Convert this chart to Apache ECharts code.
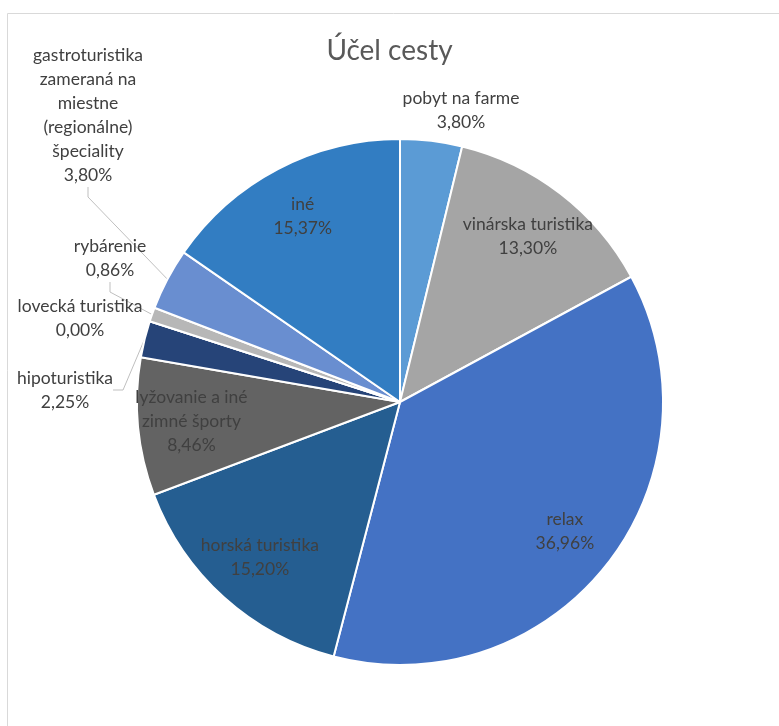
<!DOCTYPE html>
<html>
<head>
<meta charset="utf-8">
<script src="https://cdn.jsdelivr.net/npm/echarts@6/dist/echarts.min.js"></script>
<style>
  html, body { margin: 0; padding: 0; background: #fff; }
  #chart { width: 779px; height: 726px; }
</style>
</head>
<body>
<div id="chart"></div>
<script>
// data (percent)
const categories = [
  'pobyt na farme',
  'vinárska turistika',
  'relax',
  'horská turistika',
  'lyžovanie a iné\nzimné športy',
  'hipoturistika',
  'lovecká turistika',
  'rybárenie',
  'gastroturistika\nzameraná na\nmiestne\n(regionálne)\nšpeciality',
  'iné'
];
const values = [3.80, 13.30, 36.96, 15.20, 8.46, 2.25, 0.00, 0.86, 3.80, 15.37];
const colors = ['#5B9BD5', '#A5A5A5', '#4472C4', '#255E91', '#636363',
                '#264478', '#7CAFDD', '#B7B7B7', '#698ED0', '#327DC2'];

// which labels sit inside the slices, and where the outside ones go
const insideIdx = [1, 2, 3, 4, 9];
const labelSpots = { 0: [461, 110], 8: [88, 115], 7: [110, 258], 6: [80, 318], 5: [65, 390] };
const noLine = [0, 6];

const font = 'Lato';
const fmt = p => p.name + '\n' + values[p.dataIndex].toFixed(2).replace('.', ',') + '%';

const chart = echarts.init(document.getElementById('chart'));

const mainData = categories.map((name, i) => ({
  name: name,
  value: values[i],
  itemStyle: { color: colors[i] },
  label: { show: insideIdx.indexOf(i) < 0 },
  labelLine: { show: insideIdx.indexOf(i) < 0 && noLine.indexOf(i) < 0 }
}));

const labelData = categories.map((name, i) => ({
  name: name,
  value: values[i],
  label: { show: insideIdx.indexOf(i) >= 0 }
}));

const option = {
  animation: false,
  title: {
    text: 'Účel cesty',
    left: 'center',
    top: 32,
    textStyle: { fontFamily: font, fontSize: 28, fontWeight: 'normal', color: '#595959' }
  },
  graphic: [{
    type: 'rect',
    shape: { x: 7.5, y: 13.5, width: 900, height: 900 },
    style: { fill: 'none', stroke: '#d9d9d9', lineWidth: 1 },
    silent: true
  }],
  series: [
    {
      type: 'pie',
      center: [400, 402],
      radius: [0, 263],
      startAngle: 90,
      avoidLabelOverlap: false,
      itemStyle: { borderColor: '#fff', borderWidth: 2 },
      label: {
        position: 'outside',
        formatter: fmt,
        fontFamily: font,
        fontSize: 17.5,
        lineHeight: 24,
        color: '#404040',
        align: 'center'
      },
      labelLine: {
        length: 10,
        length2: 10,
        lineStyle: { color: '#bfbfbf', width: 1 }
      },
      labelLayout: function (params) {
        const p = labelSpots[params.dataIndex];
        if (!p) return {};
        return { x: p[0], y: p[1], align: 'center', verticalAlign: 'middle' };
      },
      emphasis: { disabled: true },
      data: mainData
    },
    {
      type: 'pie',
      center: [400, 402],
      radius: [150, 263],
      startAngle: 90,
      silent: true,
      itemStyle: { color: 'rgba(0,0,0,0)', borderWidth: 0 },
      label: {
        position: 'inside',
        formatter: fmt,
        fontFamily: font,
        fontSize: 17.5,
        lineHeight: 24,
        color: '#404040'
      },
      labelLine: { show: false },
      emphasis: { disabled: true },
      data: labelData
    }
  ]
};

chart.setOption(option);
</script>
</body>
</html>
